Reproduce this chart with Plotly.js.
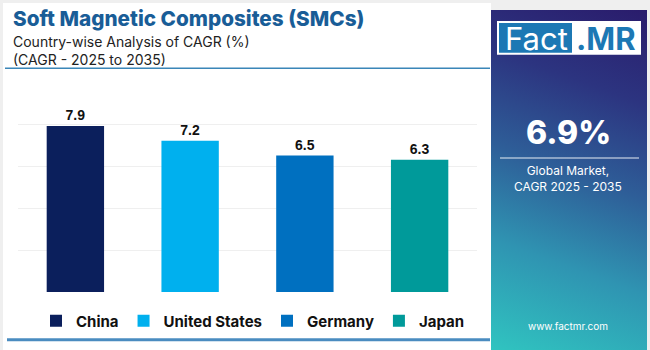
<!DOCTYPE html>
<html>
<head>
<meta charset="utf-8">
<script src="https://cdn.plot.ly/plotly-3.0.1.min.js"></script>
<style>
  html, body { margin: 0; padding: 0; background: #efefef; }
  #wrap { position: relative; width: 650px; height: 350px; overflow: hidden; }
  #leftbg { position: absolute; left: 3px; top: 3px; width: 488px; height: 347px; background: #ffffff; }
  #rightbg { position: absolute; left: 491px; top: 10px; width: 156px; height: 340px;
    background: linear-gradient(20deg, #30c4c0 0%, #2f94b2 28%, #2e5e98 52%, #2c3480 76%, #2a1c6c 100%); }
  #chart { position: absolute; left: 0; top: 0; width: 650px; height: 350px; }
</style>
</head>
<body>
<div id="wrap">
  <div id="leftbg"></div>
  <div id="rightbg"></div>
  <div id="chart"></div>
</div>
<script>
// ---- data ----
const countries = ["China", "United States", "Germany", "Japan"];
const cagr = [7.9, 7.2, 6.5, 6.3];
const barColors = ["#0b1f5c", "#00b0ee", "#0070c0", "#009a9a"];
const chartTitle = "Soft Magnetic Composites (SMCs)";
const subtitle1 = "Country-wise Analysis of CAGR (%)";
const subtitle2 = "(CAGR - 2025 to 2035)";
const globalCagr = "6.9%";
const globalLabel = "Global Market,<br>CAGR 2025 - 2035";
const website = "www.factmr.com";

// ---- geometry helpers (pixels -> paper) ----
const W = 650, H = 350;
const M = { l: 18, r: 173, t: 103, b: 51 };
const PW = W - M.l - M.r, PH = H - M.t - M.b;
const px = x => (x - M.l) / PW;
const py = y => (H - M.b - y) / PH;

const traces = countries.map((c, i) => ({
  type: "bar",
  x: [c],
  y: [cagr[i]],
  name: c,
  width: 0.5,
  marker: { color: barColors[i] },
  text: [cagr[i].toFixed(1)],
  textposition: "outside",
  textfont: { family: "Liberation Sans, Arial, sans-serif", size: 14, color: "#111111", weight: 700 },
  cliponaxis: false,
  hoverinfo: "skip"
}));

const annotations = [
  { text: chartTitle, x: px(11), y: py(15.5), xanchor: "left", yanchor: "middle",
    font: { family: "Inter, Noto Sans, sans-serif", size: 20.7, color: "#195d97", weight: 800 } },
  { text: subtitle1 + "<br>" + subtitle2, x: px(11), y: py(49), xanchor: "left", yanchor: "middle", align: "left",
    font: { family: "Inter, Noto Sans, sans-serif", size: 14, color: "#222222" } },
  { text: globalCagr, x: px(568), y: py(134), xanchor: "center", yanchor: "middle",
    font: { family: "Inter, Noto Sans, sans-serif", size: 32, color: "#ffffff", weight: 800 } },
  { text: globalLabel, x: px(568), y: py(181), xanchor: "center", yanchor: "middle",
    font: { family: "Inter, Noto Sans, sans-serif", size: 12, color: "#ffffff" } },
  { text: website, x: px(568), y: py(334), xanchor: "center", yanchor: "middle",
    font: { family: "Inter, Noto Sans, sans-serif", size: 10, color: "#ffffff" } },
  // logo text
  { text: "Fact", x: px(536), y: py(36), xanchor: "center", yanchor: "middle",
    font: { family: "Inter, Noto Sans, sans-serif", size: 31, color: "#ffffff" } },
  { text: ".MR", x: px(606), y: py(36), xanchor: "center", yanchor: "middle",
    font: { family: "Inter, Noto Sans, sans-serif", size: 31, color: "#1c78b4", weight: 700 } }
].map(a => Object.assign({ xref: "paper", yref: "paper", showarrow: false }, a));

const shapes = [
  // title underline
  { type: "line", x0: px(5), x1: px(490), y0: py(67), y1: py(67), line: { color: "#3a86b8", width: 1.5 } },
  // bottom line
  { type: "line", x0: px(7), x1: px(490), y0: py(348.5), y1: py(348.5), line: { color: "#4a8cc0", width: 3 } },
  // logo boxes
  { type: "rect", x0: px(497), x1: px(641), y0: py(18), y1: py(53), fillcolor: "#ffffff", line: { width: 0 } },
  { type: "rect", x0: px(499), x1: px(572), y0: py(20), y1: py(51), fillcolor: "#1c78b4", line: { width: 0 } },
  // divider in right panel
  { type: "line", x0: px(500), x1: px(639), y0: py(160), y1: py(160), line: { color: "rgba(255,255,255,0.6)", width: 1.5 } }
].map(s => Object.assign({ xref: "paper", yref: "paper", layer: "above" }, s));

const layout = {
  width: W, height: H,
  margin: M,
  paper_bgcolor: "rgba(0,0,0,0)",
  plot_bgcolor: "rgba(0,0,0,0)",
  showlegend: true,
  legend: {
    orientation: "h", x: px(36), y: py(312), xanchor: "left", yanchor: "top",
    font: { family: "Inter, Noto Sans, sans-serif", size: 15, color: "#111111", weight: 700 },
    itemwidth: 30, bgcolor: "rgba(0,0,0,0)", traceorder: "normal"
  },
  xaxis: { showticklabels: false, showgrid: false, zeroline: false, showline: false, ticks: "",
           fixedrange: true, range: [-0.5, 3.5] },
  yaxis: { range: [0, 9], dtick: 2, showticklabels: false, gridcolor: "#efefef", gridwidth: 1,
           zeroline: false, showline: false, ticks: "", fixedrange: true },
  bargap: 0.5,
  annotations: annotations,
  shapes: shapes
};

Plotly.newPlot("chart", traces, layout, { displayModeBar: false, staticPlot: true });
</script>
</body>
</html>
